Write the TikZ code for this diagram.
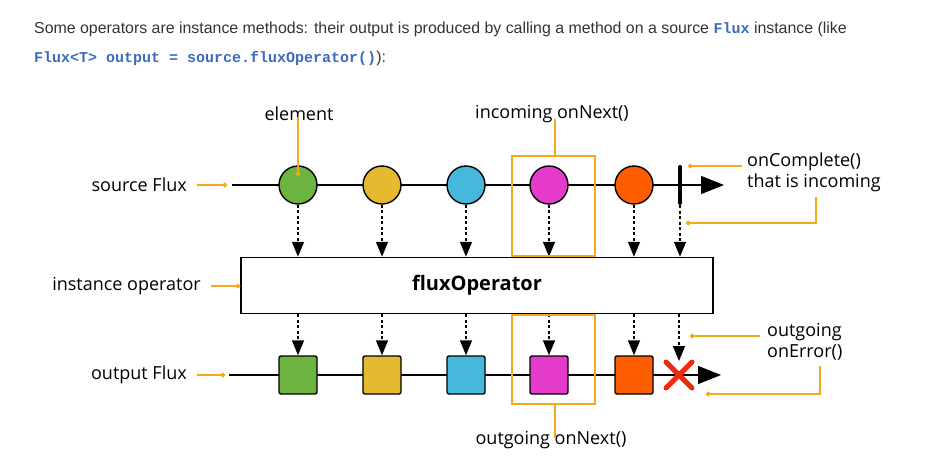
\documentclass[tikz,border=0pt]{standalone}
\usepackage{fontspec}
\setmainfont{Open Sans}
\setmonofont{Liberation Mono}
\newfontfamily\headfont{Liberation Sans}
\usetikzlibrary{arrows.meta,positioning}
\usepackage{xcolor}

\definecolor{noteorange}{HTML}{F5A81C}
\definecolor{codeblue}{HTML}{3B6BC0}
\definecolor{headgray}{HTML}{333333}
\definecolor{elemgreen}{HTML}{6DB33F}
\definecolor{elemyellow}{HTML}{E6BA30}
\definecolor{elemblue}{HTML}{45B8DC}
\definecolor{elempink}{HTML}{E53BCB}
\definecolor{elemorange}{HTML}{FF5E00}
\definecolor{errred}{HTML}{EE2A0F}
\newcommand{\code}[1]{{\ttfamily\bfseries\fontsize{15}{18}\selectfont\color{codeblue}#1}}

\begin{document}
\begin{tikzpicture}[
				x=1pt,y=-1pt,
				marble/.style={draw,circle,line width=1.4pt,minimum size=38pt,inner sep=0pt},
				tile/.style={draw,rectangle,rounded corners=2pt,line width=1.4pt,minimum size=38pt,inner sep=0pt},
				note/.style={inner sep=0pt,font=\fontsize{18}{21}\selectfont,align=left},
				intro/.style={anchor=base west,inner sep=0pt,text=headgray,font=\headfont\fontsize{15.9}{18}\selectfont},
				pipe/.style={dash pattern=on 3pt off 2.5pt,line width=1.5pt,-{Triangle[length=15pt,width=12pt]}},
				timeline/.style={line width=1.2pt,-{Triangle[length=23pt,width=18pt]}},
				leader/.style={draw=noteorange,line width=1.3pt},
				pointer/.style={leader,-{Circle[length=4.5pt]}},
				highlight/.style={draw=noteorange,line width=1.5pt,minimum width=83pt}
				]
				\useasboundingbox (0,0) rectangle (943,469);
				
				% Intro text
				\node[intro] (introline) at (34,33) {Some operators are instance methods: their output is produced by calling a method on a source \code{Flux} instance (like};
				\node[intro] (codeline) at (34,62) {\code{Flux<T> output = source.fluxOperator()}):};
				
				% Source timeline
				\coordinate (srcStart) at (232,185);
				\coordinate (srcEnd) at (724,185);
				\draw[timeline] (srcStart) -- (srcEnd);
				\node[marble,fill=elemgreen] (m1) at (298,185) {};
				\node[marble,fill=elemyellow] (m2) at (382,185) {};
				\node[marble,fill=elemblue] (m3) at (466,185) {};
				\node[marble,fill=elempink] (m4) at (549,185) {};
				\node[marble,fill=elemorange] (m5) at (634,185) {};
				\coordinate (barTop) at (680,167);
				\coordinate (barBot) at (680,203);
				\draw[line width=4pt,line cap=round] (barTop) -- (barBot);
				
				% Operator
				\node[draw,line width=1.5pt,minimum width=472pt,minimum height=56pt,font=\fontsize{20}{24}\selectfont\bfseries] (op) at (477,285.5) {fluxOperator};
				
				% Output timeline
				\coordinate (outStart) at (229,375);
				\coordinate (outEnd) at (721,375);
				\draw[timeline] (outStart) -- (outEnd);
				\node[tile,fill=elemgreen] (t1) at (298,375) {};
				\node[tile,fill=elemyellow] (t2) at (382,375) {};
				\node[tile,fill=elemblue] (t3) at (466,375) {};
				\node[tile,fill=elempink] (t4) at (549,375) {};
				\node[tile,fill=elemorange] (t5) at (634,375) {};
				\coordinate (errTop) at (679,361);
				\draw[errred,line width=5pt,line cap=round] (666,362) -- (692,388) (666,388) -- (692,362);
				
				% Arrows into the operator
				\draw[pipe] (m1.south) -- (m1.south |- op.north);
				\draw[pipe] (m2.south) -- (m2.south |- op.north);
				\draw[pipe] (m3.south) -- (m3.south |- op.north);
				\draw[pipe] (m4.south) -- (m4.south |- op.north);
				\draw[pipe] (m5.south) -- (m5.south |- op.north);
				\draw[pipe] ([yshift=-2pt]barBot) -- (barBot |- op.north);
				
				% Arrows out of the operator
				\draw[pipe] (op.south -| t1) -- (t1.north);
				\draw[pipe] (op.south -| t2) -- (t2.north);
				\draw[pipe] (op.south -| t3) -- (t3.north);
				\draw[pipe] (op.south -| t4) -- (t4.north);
				\draw[pipe] (op.south -| t5) -- (t5.north);
				\draw[pipe] (op.south -| errTop) -- (errTop);
				
				% Highlight boxes
				\node[highlight,minimum height=100pt] (hiIn) at (553.5,206) {};
				\node[highlight,minimum height=89pt] (hiOut) at (553.5,359.5) {};
				
				% Annotations left
				\node[note,anchor=east] (srcNote) at (187,185) {source Flux};
				\node[note,anchor=east] (opNote) at (201,286) {instance operator};
				\node[note,anchor=east] (outNote) at (187,375) {output Flux};
				\draw[pointer] ([xshift=10pt]srcNote.east) -- ([xshift=-5pt]srcStart);
				\draw[pointer] ([xshift=10pt]opNote.east) -- (op.west |- opNote);
				\draw[pointer] ([xshift=10pt]outNote.east) -- ([xshift=-4pt]outStart);
				
				% Annotations top and bottom
				\node[note] (elemNote) at (299,114) {element};
				\coordinate (elemDot) at (298,176);
				\draw[pointer] ([yshift=4pt]elemNote.south -| elemDot) -- (elemDot);
				\node[note] (inNote) at (552,114) {incoming onNext()};
				\draw[leader] (hiIn.north -| 555,0) -- ([yshift=4pt]inNote.south -| 555,0);
				\node[note] (outgoingNote) at (551,440) {outgoing onNext()};
				\draw[leader] (hiOut.south -| 555,0) -- ([yshift=-7pt]outgoingNote.north -| 555,0);
				
				% Annotations right
				\node[note,anchor=west] (completeNote) at (747,172) {onComplete()\\that is incoming};
				\coordinate (cmpA) at (742,166);
				\coordinate (cmpB) at (688,166);
				\coordinate (cmpC) at (816,197);
				\coordinate (cmpD) at (686,223);
				\draw[pointer] (cmpA) -- (cmpB);
				\draw[pointer] (cmpC) |- (cmpD);
				\node[note,anchor=west] (errorNote) at (767,341.5) {outgoing\\onError()};
				\coordinate (errA) at (760,336);
				\coordinate (errB) at (690,336);
				\coordinate (errC) at (820,366);
				\coordinate (errD) at (706,394);
				\draw[pointer] (errA) -- (errB);
				\draw[pointer] (errC) |- (errD);
				
			\end{tikzpicture}
\end{document}
